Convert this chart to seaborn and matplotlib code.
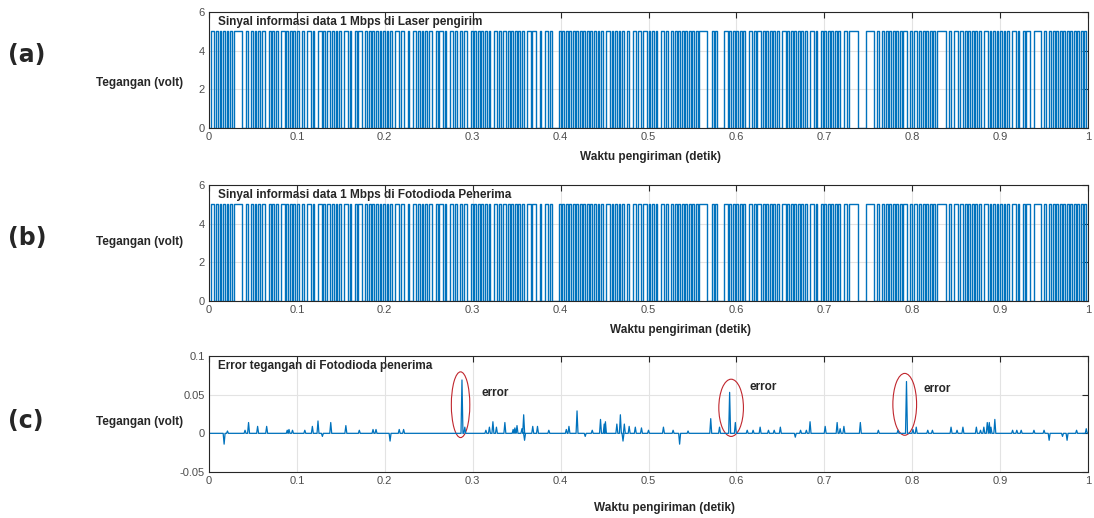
import numpy as np
import matplotlib
matplotlib.use("Agg")
import matplotlib.pyplot as plt
import pandas as pd
import seaborn as sns
from matplotlib.patches import Ellipse

# bit stream (1 bit = 0.002 s on the plot), 0.01 s per group
bit_period = 0.002
bits = ("01101" "01010" "10101" "11110" "01001" "01010" "11001" "01010" "01101" "01010"
        "10010" "01101" "00110" "10110" "10101" "00110" "10010" "11001" "01010" "10101"
        "01010" "01101" "10010" "01101" "01010" "11001" "01101" "00110" "10010" "11001"
        "01010" "10101" "00110" "10110" "10101" "01010" "01101" "10010" "01101" "00001"
        "01010" "10101" "01010" "10101" "01010" "01101" "01010" "10010" "01101" "10110"
        "10101" "00110" "10010" "10101" "01010" "10101" "11100" "01010" "00011" "01010"
        "10101" "00110" "10110" "10101" "01010" "01101" "01010" "10101" "00110" "10010"
        "10101" "01010" "01101" "11110" "00001" "11100" "10010" "10101" "01010" "11001"
        "01101" "01010" "10101" "11110" "01001" "10110" "10101" "01010" "01101" "01010"
        "10101" "00110" "10010" "11001" "11100" "10010" "10101" "01010" "10101" "01010")
v_high = 5.0

# error spikes at the photodiode (time in s, voltage in V)
spike_t = [0.0172, 0.021, 0.041, 0.045, 0.0553, 0.0656, 0.089, 0.091, 0.095,
           0.109, 0.1176, 0.124, 0.129, 0.1385, 0.1557, 0.171, 0.1866, 0.190,
           0.206, 0.2164, 0.2214, 0.2878, 0.291, 0.315, 0.319, 0.323, 0.327,
           0.3366, 0.346, 0.348, 0.3504, 0.356, 0.358, 0.359, 0.3683, 0.3737,
           0.3866, 0.4065, 0.4095, 0.4187, 0.428, 0.436, 0.4454, 0.4496, 0.451,
           0.464, 0.468, 0.471, 0.4725, 0.478, 0.485, 0.492, 0.500, 0.517,
           0.528, 0.5354, 0.545, 0.5708, 0.5808, 0.5923, 0.5988, 0.6123, 0.619,
           0.627, 0.6365, 0.643, 0.650, 0.667, 0.673, 0.6796, 0.6838, 0.701,
           0.7146, 0.718, 0.7223, 0.741, 0.7615, 0.7838, 0.7935, 0.8008, 0.8046,
           0.8177, 0.823, 0.8442, 0.851, 0.8577, 0.873, 0.8777, 0.8815, 0.8854,
           0.8877, 0.8896, 0.894, 0.9142, 0.919, 0.924, 0.9385, 0.950, 0.9558,
           0.971, 0.9762, 0.987, 0.998]
spike_v = [-0.014, 0.003, 0.004, 0.014, 0.009, 0.009, 0.004, 0.005, 0.004,
           0.004, 0.009, 0.016, -0.004, 0.014, 0.010, 0.004, 0.005, 0.005,
           -0.010, 0.005, 0.005, 0.069, 0.008, 0.004, 0.008, 0.015, 0.008,
           0.014, 0.005, 0.007, 0.010, 0.006, 0.024, -0.009, 0.009, 0.009,
           0.004, 0.005, 0.009, 0.029, -0.004, 0.004, 0.018, 0.012, 0.015,
           0.012, 0.024, -0.010, 0.012, 0.009, 0.008, 0.007, 0.004, 0.008,
           0.004, -0.014, 0.003, 0.019, 0.008, 0.053, 0.014, 0.004, 0.004,
           0.008, 0.004, 0.004, 0.008, -0.005, 0.004, 0.004, 0.015, 0.009,
           0.014, 0.006, 0.009, 0.014, 0.004, 0.004, 0.067, 0.005, 0.008,
           0.004, 0.004, 0.008, 0.004, 0.008, 0.008, 0.004, 0.008, 0.014,
           0.014, 0.008, 0.018, 0.004, 0.004, 0.004, 0.004, 0.004, -0.009,
           -0.004, -0.009, 0.004, 0.006]

# circled errors: (centre t, centre v, width t, height v) and the "error" labels
err_marks = [(0.2862, 0.037, 0.021, 0.085), (0.594, 0.033, 0.028, 0.074),
             (0.7915, 0.0375, 0.027, 0.080)]
err_labels = [(482, 393), (750, 387), (923, 389)]

panel_titles = ["Sinyal informasi data 1 Mbps di Laser pengirim",
                "Sinyal informasi data 1 Mbps di Fotodioda Penerima",
                "Error tegangan di Fotodioda penerima"]
panel_tags = ["(a)", "(b)", "(c)"]
x_ticks = [0, 0.1, 0.2, 0.3, 0.4, 0.5, 0.6, 0.7, 0.8, 0.9, 1]
x_ticklabels = ["0", "0.1", "0.2", "0.3", "0.4", "0.5", "0.6", "0.7", "0.8", "0.9", "1"]

BLUE = "#0072BD"
W, H = 1094, 518


def px(x, y):
    return x / W, 1 - y / H


def style_axes(ax):
    ax.set_xlim(0, 1)
    ax.set_xticks(x_ticks)
    ax.set_xticklabels(x_ticklabels)
    ax.grid(True, color="#e3e3e3", linewidth=0.8)
    ax.tick_params(axis="both", direction="in", length=4, labelsize=8,
                   labelcolor="#4d4d4d", color="#262626", top=True, right=True,
                   pad=3)
    for s in ax.spines.values():
        s.set_color("#262626")
        s.set_linewidth(0.8)
    ax.set_xlabel("")
    ax.set_ylabel("")


def main():
    sns.set_style("white")
    plt.rcParams["font.family"] = ["Liberation Sans", "DejaVu Sans"]

    fig = plt.figure(figsize=(W / 100, H / 100), dpi=100)

    # signal as step data
    sig = np.array([int(b) for b in bits] + [int(bits[-1])]) * v_high
    t_sig = np.arange(len(sig)) * bit_period
    df_sig = pd.DataFrame({"t": t_sig, "v": sig})

    # error trace: zero baseline with narrow spikes
    et, ev = [0.0], [0.0]
    for t, v in zip(spike_t, spike_v):
        et += [t - 0.0011, t, t + 0.0011]
        ev += [0.0, v, 0.0]
    et.append(1.0)
    ev.append(0.0)
    df_err = pd.DataFrame({"t": et, "v": ev})

    tops = [12, 185, 356]
    ylabel_y = [83, 242, 422]
    tag_y = [55, 238, 421]
    xlabel_pos = [(650, 157), (680, 330), (664, 508)]
    left, right, h = 209, 1088, 116

    for i in range(3):
        ax = fig.add_axes([left / W, 1 - (tops[i] + h) / H, (right - left) / W, h / H])
        if i < 2:
            sns.lineplot(data=df_sig, x="t", y="v", ax=ax, color=BLUE,
                         linewidth=1.0, drawstyle="steps-post", estimator=None)
            ax.set_ylim(0, 6)
            ax.set_yticks([0, 2, 4, 6])
            ax.set_yticklabels(["0", "2", "4", "6"])
        else:
            sns.lineplot(data=df_err, x="t", y="v", ax=ax, color=BLUE,
                         linewidth=0.9, sort=False, estimator=None)
            ax.set_ylim(-0.05, 0.1)
            ax.set_yticks([-0.05, 0, 0.05, 0.1])
            ax.set_yticklabels(["-0.05", "0", "0.05", "0.1"])
            for cx, cy, wd, ht in err_marks:
                ax.add_patch(Ellipse((cx, cy), wd, ht, fill=False,
                                     edgecolor="#c0262d", linewidth=0.8))
            for lx, ly in err_labels:
                fig.text(*px(lx, ly), "error", fontsize=8.5, fontweight="bold",
                         ha="left", va="center")
        style_axes(ax)

        fig.text(*px(left + 9, tops[i] + 10), panel_titles[i], fontsize=8.5,
                 fontweight="bold", ha="left", va="center")
        fig.text(*px(140, ylabel_y[i]), "Tegangan (volt)", fontsize=8.5,
                 fontweight="bold", ha="center", va="center")
        fig.text(*px(8, tag_y[i]), panel_tags[i], fontsize=17,
                 fontweight="bold", ha="left", va="center", family="DejaVu Sans")
        fig.text(*px(*xlabel_pos[i]), "Waktu pengiriman (detik)", fontsize=8.5,
                 fontweight="bold", ha="center", va="center")

    fig.savefig("out.png", dpi=100)
    plt.close(fig)


if __name__ == "__main__":
    main()
